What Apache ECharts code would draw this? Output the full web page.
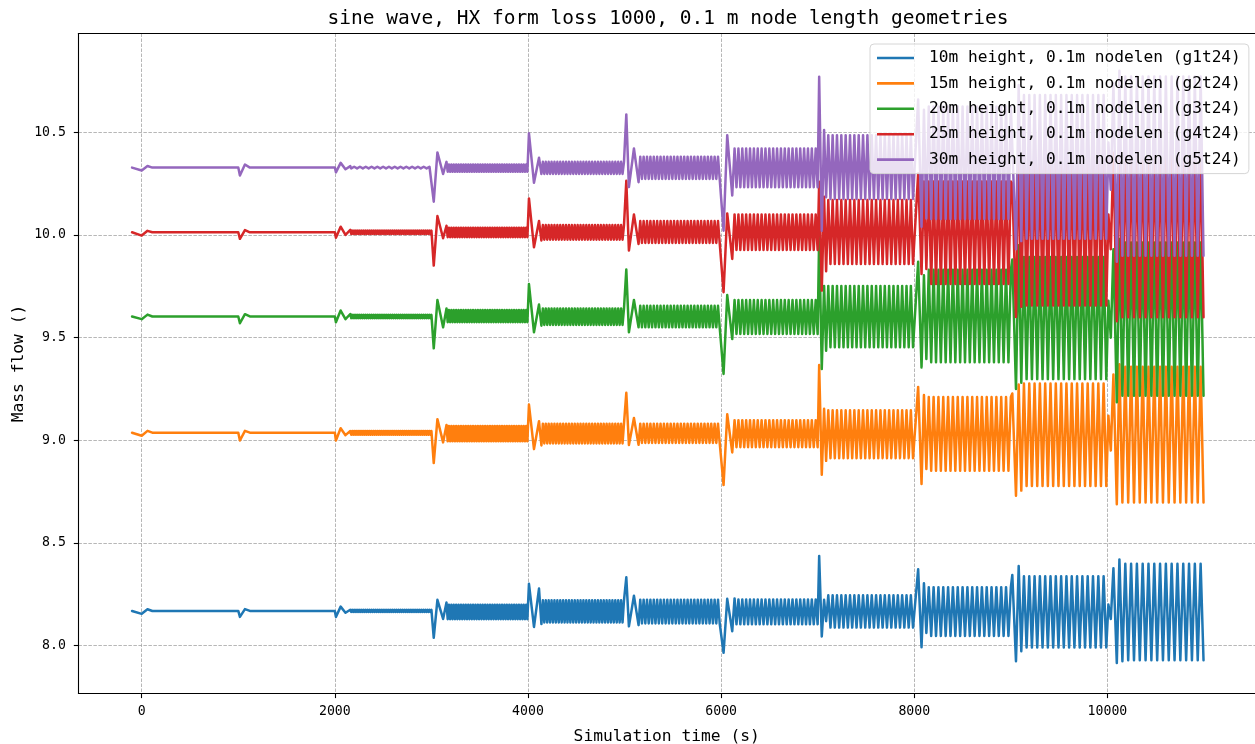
<!DOCTYPE html>
<html>
<head>
<meta charset="utf-8">
<title>sine wave, HX form loss 1000</title>
<script src="https://cdn.jsdelivr.net/npm/echarts@6/dist/echarts.min.js"></script>
<style>
  html, body { margin: 0; padding: 0; background: #fff; }
  #chart { width: 1255px; height: 744px; }
</style>
</head>
<body>
<div id="chart"></div>
<script>
// ---- axis ticks ----
const xTicks = [0, 2000, 4000, 6000, 8000, 10000];
const yTicks = [8.0, 8.5, 9.0, 9.5, 10.0, 10.5];

// ---- run layout: each step of the boundary condition ----
const tStart = -100;                 // s, first sample
const tEnd = 11000;                  // s, last sample
const stepStart = [0, 1000, 2000, 3000, 4000, 5000, 6000, 7000, 8000, 9000, 10000];
// forcing period of the sine wave in each step (s); 0 = no forcing
const stepPeriod = [0, 0, 20, 25, 30, 35, 40, 45, 50, 55, 60];
// time of each transient extremum after the step begins (s)
const kickOffsets = [
  [0, 60, 110],
  [17, 69, 120],
  [11, 60, 110, 160],
  [24, 62, 121, 156],
  [10, 62, 114, 139],
  [18, 45, 97, 145],
  [25, 63, 115, 139],
  [15, 42, 66, 87],
  [40, 75, 100, 125],
  [15, 53, 81, 108],
  [10, 35, 62, 97, 124, 155]
];

// ---- g1t24: 10 m height ----
const g1Base = 8.169;
const g1Hi = [8.169, 8.169, 8.174, 8.199, 8.221, 8.224, 8.225, 8.245, 8.285, 8.338, 8.399];
const g1Lo = [8.169, 8.169, 8.164, 8.129, 8.113, 8.108, 8.104, 8.088, 8.047, 7.991, 7.929];
const g1Kicks = [
  [8.155, 8.177, 8.169],
  [8.140, 8.178, 8.169],
  [8.140, 8.190, 8.160, 8.175],
  [8.038, 8.223, 8.130, 8.210],
  [8.301, 8.091, 8.278, 8.105],
  [8.333, 8.094, 8.243, 8.100],
  [7.965, 8.228, 8.070, 8.230],
  [8.437, 8.045, 8.223, 8.119],
  [8.372, 7.992, 8.304, 8.062],
  [8.344, 7.924, 8.388, 7.973],
  [8.200, 8.130, 8.377, 7.916, 8.420, 7.924]
];

// ---- g2t24: 15 m height ----
const g2Base = 9.037;
const g2Hi = [9.037, 9.037, 9.045, 9.070, 9.081, 9.081, 9.098, 9.146, 9.211, 9.276, 9.358];
const g2Lo = [9.037, 9.037, 9.027, 8.995, 8.985, 8.987, 8.966, 8.913, 8.852, 8.778, 8.697];
const g2Kicks = [
  [9.022, 9.046, 9.037],
  [8.999, 9.046, 9.037],
  [8.999, 9.059, 9.025, 9.045],
  [8.889, 9.103, 8.990, 9.075],
  [9.174, 8.957, 9.093, 8.975],
  [9.231, 8.977, 9.109, 8.978],
  [8.782, 9.127, 8.941, 9.098],
  [9.367, 8.832, 9.154, 8.900],
  [9.260, 8.787, 9.220, 8.860],
  [9.228, 8.730, 9.272, 8.755],
  [9.120, 8.950, 9.320, 8.689, 9.370, 8.697]
];

// ---- g3t24: 20 m height ----
const g3Base = 9.603;
const g3Hi = [9.603, 9.603, 9.611, 9.634, 9.642, 9.655, 9.683, 9.752, 9.830, 9.893, 9.963];
const g3Lo = [9.603, 9.603, 9.595, 9.575, 9.562, 9.550, 9.518, 9.453, 9.380, 9.298, 9.217];
const g3Kicks = [
  [9.590, 9.612, 9.603],
  [9.570, 9.614, 9.603],
  [9.575, 9.632, 9.590, 9.615],
  [9.448, 9.683, 9.550, 9.642],
  [9.761, 9.526, 9.661, 9.558],
  [9.832, 9.526, 9.683, 9.550],
  [9.323, 9.707, 9.493, 9.683],
  [9.999, 9.347, 9.752, 9.436],
  [9.869, 9.355, 9.804, 9.396],
  [9.880, 9.250, 9.950, 9.280],
  [9.680, 9.500, 9.930, 9.185, 9.980, 9.217]
];

// ---- g4t24: 25 m height ----
const g4Base = 10.013;
const g4Hi = [10.013, 10.013, 10.021, 10.035, 10.048, 10.068, 10.100, 10.170, 10.260, 10.360, 10.420];
const g4Lo = [10.013, 10.013, 10.005, 9.989, 9.977, 9.961, 9.927, 9.859, 9.761, 9.656, 9.599];
const g4Kicks = [
  [9.997, 10.020, 10.013],
  [9.981, 10.024, 10.013],
  [9.986, 10.040, 10.000, 10.025],
  [9.851, 10.092, 9.984, 10.045],
  [10.178, 9.940, 10.068, 9.973],
  [10.264, 9.924, 10.100, 9.956],
  [9.721, 10.105, 9.883, 10.100],
  [10.259, 9.729, 10.186, 9.823],
  [10.299, 9.810, 10.260, 9.834],
  [10.250, 9.600, 10.420, 9.650],
  [10.100, 9.930, 10.400, 9.580, 10.440, 9.599]
];

// ---- g5t24: 30 m height ----
const g5Base = 10.328;
const g5Hi = [10.328, 10.328, 10.332, 10.343, 10.356, 10.381, 10.421, 10.486, 10.625, 10.682, 10.771];
const g5Lo = [10.328, 10.328, 10.324, 10.308, 10.297, 10.273, 10.232, 10.175, 10.078, 9.981, 9.899];
const g5Kicks = [
  [10.314, 10.336, 10.328],
  [10.289, 10.343, 10.328],
  [10.305, 10.351, 10.320, 10.335],
  [10.162, 10.402, 10.297, 10.356],
  [10.495, 10.254, 10.376, 10.297],
  [10.587, 10.233, 10.421, 10.257],
  [10.021, 10.486, 10.192, 10.421],
  [10.770, 10.021, 10.511, 10.184],
  [10.660, 10.040, 10.610, 10.080],
  [10.620, 9.930, 10.730, 9.970],
  [10.450, 10.220, 10.740, 9.870, 10.800, 9.899]
];

const seriesNames = [
  '10m height, 0.1m nodelen (g1t24)',
  '15m height, 0.1m nodelen (g2t24)',
  '20m height, 0.1m nodelen (g3t24)',
  '25m height, 0.1m nodelen (g4t24)',
  '30m height, 0.1m nodelen (g5t24)'
];
const seriesColors = ['#1f77b4', '#ff7f0e', '#2ca02c', '#d62728', '#9467bd'];

// Turn a run's step data into [time, mass flow] samples: the transient
// extrema after each step, then the steady swing between the step's
// upper and lower peaks at the forcing period.
function buildRun(base, kicks, hi, lo) {
  const pts = [[tStart, base]];
  for (let s = 0; s < stepStart.length; s++) {
    const t0 = stepStart[s];
    const tNext = s + 1 < stepStart.length ? stepStart[s + 1] : tEnd;
    const offs = kickOffsets[s];
    const k = kicks[s];
    for (let i = 0; i < k.length; i++) pts.push([t0 + offs[i], k[i]]);
    const p = stepPeriod[s];
    if (!p) { pts.push([tNext, hi[s]]); continue; }
    const mid = (hi[s] + lo[s]) / 2;
    let up = k[k.length - 1] < mid;
    for (let t = t0 + offs[offs.length - 1] + p / 2; t <= tNext; t += p / 2) {
      pts.push([t, up ? hi[s] : lo[s]]);
      up = !up;
    }
  }
  return pts;
}

const runs = [
  buildRun(g1Base, g1Kicks, g1Hi, g1Lo),
  buildRun(g2Base, g2Kicks, g2Hi, g2Lo),
  buildRun(g3Base, g3Kicks, g3Hi, g3Lo),
  buildRun(g4Base, g4Kicks, g4Hi, g4Lo),
  buildRun(g5Base, g5Kicks, g5Hi, g5Lo)
];

const FONT = 'DejaVu Sans Mono';
const xMin = -655.5, xMax = 11528;
const yMin = 7.767, yMax = 10.981;
const gridLine = { color: '#a4a4a4', width: 0.8, type: [3.5, 1.5] };
const spine = { color: '#000', width: 1.1 };

const chart = echarts.init(document.getElementById('chart'), null, { renderer: 'canvas' });
chart.setOption({
  animation: false,
  backgroundColor: '#ffffff',
  textStyle: { fontFamily: FONT },
  title: {
    text: 'sine wave, HX form loss 1000, 0.1 m node length geometries',
    left: 663,
    top: 4,
    textAlign: 'center',
    textStyle: { fontFamily: FONT, fontSize: 19.5, fontWeight: 'normal', color: '#000' }
  },
  grid: {
    left: 78.4, right: 0, top: 33.5, bottom: 50.5,
    containLabel: false,
    outerBoundsMode: 'none'
  },
  legend: {
    orient: 'vertical',
    left: 870,
    top: 44,
    padding: [4, 8, 4, 7],
    itemGap: 5.4,
    itemWidth: 37,
    itemHeight: 2.6,
    icon: 'rect',
    backgroundColor: 'rgba(255,255,255,0.8)',
    borderColor: '#d6d6d6',
    borderWidth: 1,
    borderRadius: 4,
    selectedMode: false,
    textStyle: { fontFamily: FONT, fontSize: 16.2, color: '#000', lineHeight: 20, padding: [0, 0, 0, 10] },
    data: seriesNames
  },
  xAxis: [{
    type: 'value',
    min: xMin, max: xMax,
    name: 'Simulation time (s)',
    nameLocation: 'middle',
    nameGap: 35,
    nameMoveOverlap: false,
    nameTextStyle: { fontFamily: FONT, fontSize: 16.3, color: '#000' },
    axisLine: { show: true, onZero: false, lineStyle: spine },
    axisTick: { show: true, length: 4.6, lineStyle: spine, customValues: xTicks },
    axisLabel: {
      customValues: xTicks,
      margin: 12, fontFamily: FONT, fontSize: 13.2, color: '#000',
      formatter: v => String(Math.round(v))
    },
    splitLine: { show: true, lineStyle: gridLine }
  }, {
    type: 'value',
    position: 'top',
    min: xMin, max: xMax,
    axisLine: { show: true, onZero: false, lineStyle: spine },
    axisTick: { show: false },
    axisLabel: { show: false },
    splitLine: { show: false }
  }],
  yAxis: {
    type: 'value',
    min: yMin, max: yMax,
    name: 'Mass flow ()',
    nameLocation: 'middle',
    nameGap: 52,
    nameMoveOverlap: false,
    nameTextStyle: { fontFamily: FONT, fontSize: 16.3, color: '#000' },
    axisLine: { show: true, onZero: false, lineStyle: spine },
    axisTick: { show: true, length: 4.6, lineStyle: spine, customValues: yTicks },
    axisLabel: {
      customValues: yTicks,
      margin: 12.5, fontFamily: FONT, fontSize: 13.2, color: '#000',
      formatter: v => v.toFixed(1)
    },
    splitLine: { show: true, lineStyle: gridLine }
  },
  series: runs.map((data, i) => ({
    type: 'line',
    name: seriesNames[i],
    data: data,
    xAxisIndex: 0,
    showSymbol: false,
    symbol: 'none',
    silent: true,
    clip: true,
    color: seriesColors[i],
    itemStyle: { color: seriesColors[i] },
    lineStyle: { color: seriesColors[i], width: 2.5, join: 'round', cap: 'round' },
    emphasis: { disabled: true }
  }))
});
</script>
</body>
</html>
